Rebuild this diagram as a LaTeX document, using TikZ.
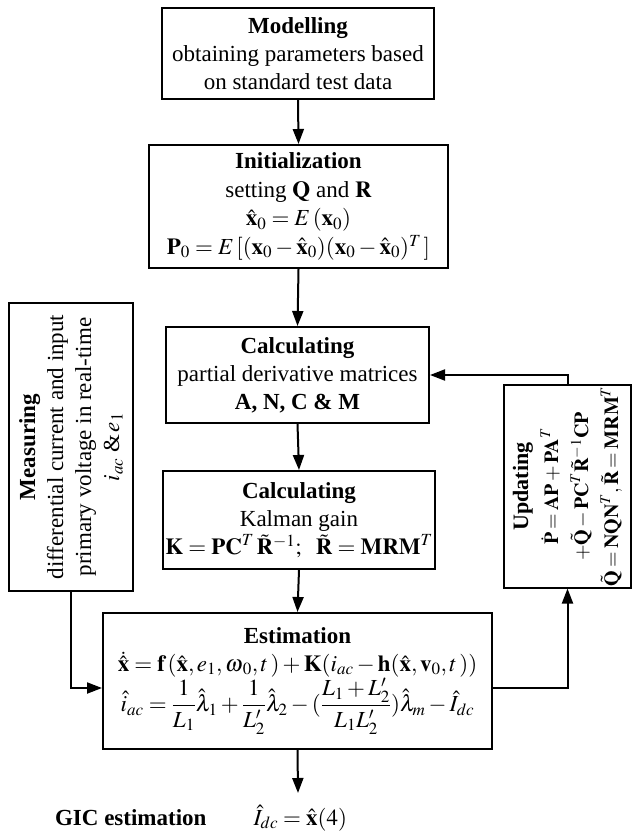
\documentclass[tikz,border=0pt]{standalone}
\usepackage{amsmath}
\usepackage{mathptmx}
\usepackage{fontspec}
\setmainfont{Liberation Serif}
\usetikzlibrary{arrows.meta}
\newcommand{\bx}{\mathbf{x}}
\newcommand{\hx}{\hat{\mathbf{x}}}
\newcommand{\tightmath}{\thickmuskip=3mu\relax\medmuskip=2mu\relax}
\begin{document}
\begin{tikzpicture}[x=1pt,y=-1pt,
  box/.style={draw, line width=2pt, align=center, inner sep=2pt,
    font=\fontsize{23}{28}\selectfont},
  conn/.style={line width=2pt, -{Triangle[length=15pt,width=11pt]}}]
\useasboundingbox (0,0) rectangle (634,837);

\node[box, minimum width=272pt, minimum height=91pt] (model) at (298,53.5)
  {\textbf{Modelling}\\obtaining parameters based\\on standard test data};

\node[box, minimum width=299pt, minimum height=123pt, font=\fontsize{23}{28.5}\selectfont] (init) at (298.5,206.5)
  {\textbf{Initialization}\\setting $\mathbf{Q}$ and $\mathbf{R}$\\
   $\hx_0 = E\,(\bx_0)$\\
   $\mathbf{P}_0 = E\,[(\bx_0-\hx_0)(\bx_0-\hx_0)^T\,]$};

\node[box, minimum width=263pt, minimum height=96pt] (calc1) at (297.5,375)
  {\textbf{Calculating}\\partial derivative matrices\\\textbf{A, N, C \& M}};

\node[box, minimum width=272pt, minimum height=98pt] (calc2) at (299,520)
  {\textbf{Calculating}\\Kalman gain\\
   $\mathbf{K}=\mathbf{PC}^T\,\tilde{\mathbf{R}}^{-1};\ \ \tilde{\mathbf{R}}=\mathbf{MRM}^T$};

\node[box, minimum width=389pt, minimum height=136pt] (est) at (297.5,681)
  {\textbf{Estimation}\\
   $\dot{\hx}=\mathbf{f}\,(\hx,e_1,\boldsymbol{\omega}_0,t\,)+\mathbf{K}(i_{ac}-\mathbf{h}(\hx,\mathbf{v}_0,t\,))$\\
   $\hat{i}_{ac}=\dfrac{1}{L_1}\hat{\lambda}_1+\dfrac{1}{L_2'}\hat{\lambda}_2-(\dfrac{L_1+L_2'}{L_1L_2'})\hat{\lambda}_m-\hat{I}_{dc}$};

\node[box, rotate=90, minimum width=288pt, minimum height=124pt] (meas) at (71,447)
  {\textbf{Measuring}\\differential current and input\\primary voltage in real-time\\
   $i_{ac}$ \&$\,e_1$};

\node[box, rotate=90, minimum width=183pt, minimum height=127pt, inner sep=1pt,
  font=\fontsize{20}{30}\selectfont] (upd) at (567.5,486.5)
  {{\fontsize{22}{30}\selectfont\textbf{Updating}}\\$\tightmath\dot{\mathbf{P}}=\mathbf{AP}+\mathbf{PA}^T$\\
   $\tightmath+\tilde{\mathbf{Q}}-\mathbf{PC}^T\tilde{\mathbf{R}}^{-1}\mathbf{CP}$\\
   $\tightmath\tilde{\mathbf{Q}}=\mathbf{NQN}^T,\tilde{\mathbf{R}}=\mathbf{MRM}^T$};

\coordinate (out) at (298,793);
\coordinate (mc) at (70,688);
\coordinate (ec) at (570,688);

\draw[conn] (model.south) -- (init.north);
\draw[conn] (init.south) -- (calc1.north);
\draw[conn] (calc1.south) -- (calc2.north);
\draw[conn] (calc2.south) -- (est.north);
\draw[conn] (est.south) -- (out);
\draw[conn] (upd.east) |- (calc1.east);
\draw[conn] (meas.west) |- (est.west |- mc);
\draw[conn] (est.east |- ec) -| (upd.west);

\node[anchor=base east, font=\fontsize{23}{28}\selectfont\bfseries] (gic) at (210,825) {GIC estimation};
\node[anchor=base west, font=\fontsize{23}{28}\selectfont] (idc) at (250,825) {$\hat{I}_{dc}=\hx(4)$};
\end{tikzpicture}
\end{document}
